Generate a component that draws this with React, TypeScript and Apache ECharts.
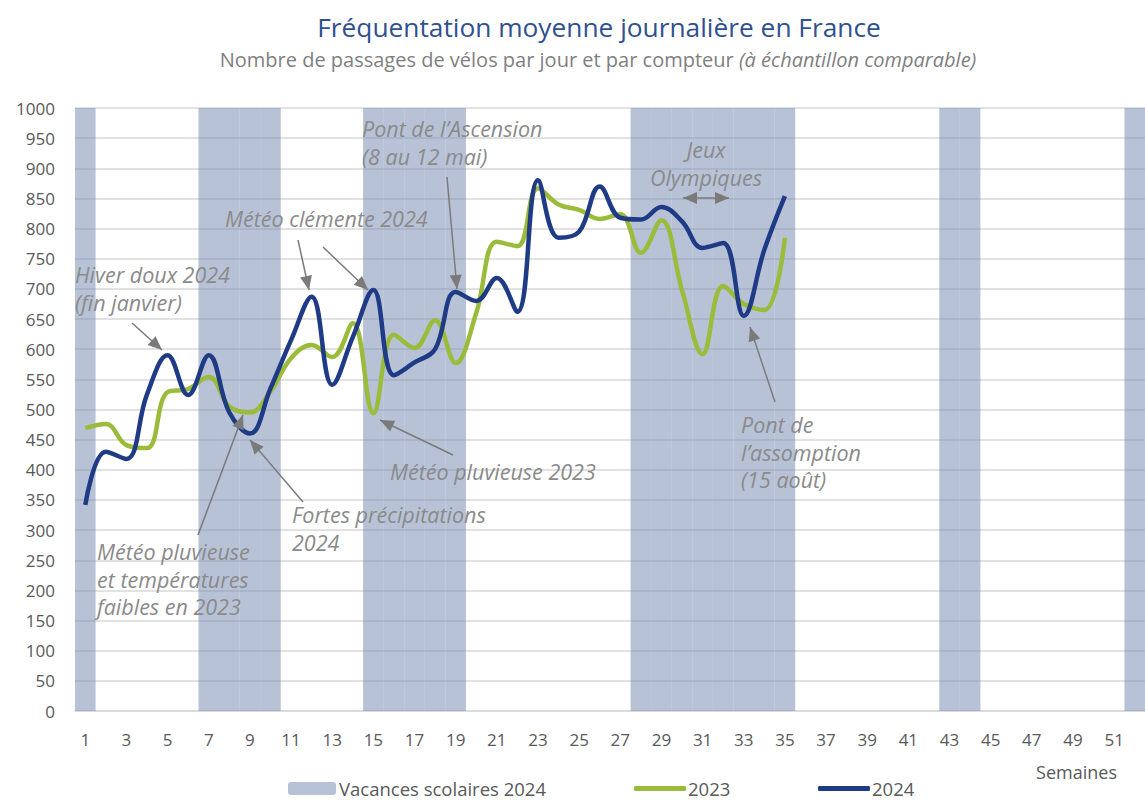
import React, { useEffect, useRef } from "react";
import * as echarts from "echarts";

const weeks: string[] = Array.from({ length: 52 }, (_, i) => String(i + 1));
const vacationWeeks: number[] = [1, 7, 8, 9, 10, 15, 16, 17, 18, 19, 28, 29, 30, 31, 32, 33, 34, 35, 43, 44, 52];
const values2023: number[] = [469, 476, 441, 436, 529, 534, 554, 505, 495, 530, 585, 607, 587, 643, 494, 624, 602, 648, 577, 660, 778, 771, 867, 840, 831, 816, 824, 760, 814, 698, 592, 705, 675, 665, 785];
const values2024: number[] = [342, 430, 418, 525, 590, 524, 590, 495, 460, 535, 615, 687, 541, 620, 698, 557, 578, 600, 695, 680, 718, 662, 880, 785, 795, 870, 818, 815, 836, 812, 768, 776, 655, 765, 854];
const yTicks = { min: 0, max: 1000, interval: 50 };

const ANN_COLOR = "#8a8a8a";
const ANN_FONT = "italic 21.5px 'Open Sans'";

function arrow(x1: number, y1: number, x2: number, y2: number, both = false): any[] {
  const els: any[] = [];
  const head = (px: number, py: number, fx: number, fy: number) => {
    const a = Math.atan2(py - fy, px - fx);
    const L = 14, W = 6;
    const bx = px - L * Math.cos(a), by = py - L * Math.sin(a);
    return {
      type: "polygon",
      shape: { points: [[px, py], [bx + W * Math.sin(a), by - W * Math.cos(a)], [bx - W * Math.sin(a), by + W * Math.cos(a)]] },
      style: { fill: "#7a7a7a" },
      z: 100,
    };
  };
  els.push({ type: "line", shape: { x1, y1, x2, y2 }, style: { stroke: "#7a7a7a", lineWidth: 1.5 }, z: 100 });
  els.push(head(x2, y2, x1, y1));
  if (both) els.push(head(x1, y1, x2, y2));
  return els;
}

function annText(text: string, x: number, top: number, align: string = "left"): any {
  return {
    type: "text",
    x,
    y: top,
    z: 100,
    style: { text, font: ANN_FONT, fill: ANN_COLOR, lineHeight: 27.5, align, verticalAlign: "top" },
  };
}

export default function App() {
  const ref = useRef<HTMLDivElement>(null);
  useEffect(() => {
    if (!ref.current) return;
    const chart = echarts.init(ref.current, undefined, { renderer: "svg" });
    const vacData = weeks.map((w) => (vacationWeeks.includes(Number(w)) ? yTicks.max : null));
    const labelStyle = { color: "#595959", fontSize: 17, fontFamily: "'Open Sans'" };
    const legendText = { color: "#595959", fontSize: 18.5, fontFamily: "'Open Sans'" };
    chart.setOption({
      animation: false,
      backgroundColor: "#ffffff",
      grid: { left: 75, top: 108, width: 1071, height: 603 },
      xAxis: {
        type: "category",
        data: weeks,
        boundaryGap: true,
        axisTick: { show: false },
        axisLine: { lineStyle: { color: "#d9d9d9", width: 1.5 } },
        axisLabel: { ...labelStyle, interval: 1, margin: 20 },
        splitLine: { show: false },
      },
      yAxis: {
        type: "value",
        min: yTicks.min,
        max: yTicks.max,
        interval: yTicks.interval,
        axisLine: { show: false },
        axisTick: { show: false },
        axisLabel: { ...labelStyle, margin: 20, formatter: (v: number) => String(v) },
        splitLine: { lineStyle: { color: "#d9d9d9", width: 1.5 } },
      },
      legend: [
        { data: ["Vacances scolaires 2024"], left: 288, top: 779, padding: 0, itemWidth: 48, itemHeight: 13, itemGap: 0, textStyle: { ...legendText, padding: [0, 0, 0, -2] }, selectedMode: false },
        { data: [{ name: "2023", icon: "roundRect" }], left: 634, top: 779, padding: 0, itemWidth: 52, itemHeight: 5, textStyle: { ...legendText, padding: [0, 0, 0, -3] }, selectedMode: false },
        { data: [{ name: "2024", icon: "roundRect" }], left: 818, top: 779, padding: 0, itemWidth: 52, itemHeight: 5, textStyle: { ...legendText, padding: [0, 0, 0, -3] }, selectedMode: false },
      ],
      series: [
        {
          name: "Vacances scolaires 2024",
          type: "bar",
          data: vacData,
          barWidth: "100%",
          silent: true,
          itemStyle: { color: "rgba(120,140,180,0.53)" },
          z: 1,
        },
        {
          name: "2023",
          type: "line",
          data: values2023,
          smooth: 0.4,
          symbol: "none",
          itemStyle: { color: "#9bbb3b" },
          lineStyle: { color: "#9bbb3b", width: 4.5 },
          z: 3,
        },
        {
          name: "2024",
          type: "line",
          data: values2024,
          smooth: 0.4,
          symbol: "none",
          itemStyle: { color: "#1f3b85" },
          lineStyle: { color: "#1f3b85", width: 4.5 },
          z: 4,
        },
      ],
      graphic: [
        {
          type: "text",
          x: 599,
          y: 27,
          style: { text: "Fréquentation moyenne journalière en France", font: "26.3px 'Open Sans'", fill: "#30508f", align: "center", verticalAlign: "middle" },
        },
        {
          type: "text",
          x: 598,
          y: 59,
          style: {
            text: "{a|Nombre de passages de vélos par jour et par compteur }{b|(à échantillon comparable)}",
            align: "center",
            verticalAlign: "middle",
            fill: "#7f7f7f",
            rich: {
              a: { fontSize: 20, fontFamily: "'Open Sans'", fill: "#7f7f7f" },
              b: { fontSize: 20, fontStyle: "italic", fontFamily: "'Open Sans'", fill: "#7f7f7f" },
            },
          },
        },
        {
          type: "text",
          x: 1117,
          y: 772,
          style: { text: "Semaines", font: "18px 'Open Sans'", fill: "#595959", align: "right", verticalAlign: "middle" },
        },
        annText("Hiver doux 2024\n(fin janvier)", 75, 261),
        ...arrow(132, 323, 162, 350),
        annText("Météo clémente 2024", 225, 205),
        ...arrow(298, 240, 309, 290),
        ...arrow(323, 247, 368, 290),
        annText("Pont de l’Ascension\n(8 au 12 mai)", 362, 115),
        ...arrow(447, 177, 457, 289),
        annText("Jeux\nOlympiques", 706, 136, "center"),
        ...arrow(683, 198, 729, 198, true),
        annText("Pont de\nl’assomption\n(15 août)", 741, 411),
        ...arrow(775, 402, 750, 327),
        annText("Météo pluvieuse 2023", 390, 458),
        ...arrow(453, 455, 380, 420),
        annText("Fortes précipitations\n2024", 292, 501),
        ...arrow(303, 502, 250, 440),
        annText("Météo pluvieuse\net températures\nfaibles en 2023", 97, 538),
        ...arrow(198, 535, 243, 415),
      ],
    });
    return () => chart.dispose();
  }, []);
  return <div ref={ref} style={{ position: "fixed", left: 0, top: 0, width: 1145, height: 800, background: "#fff" }} />;
}
